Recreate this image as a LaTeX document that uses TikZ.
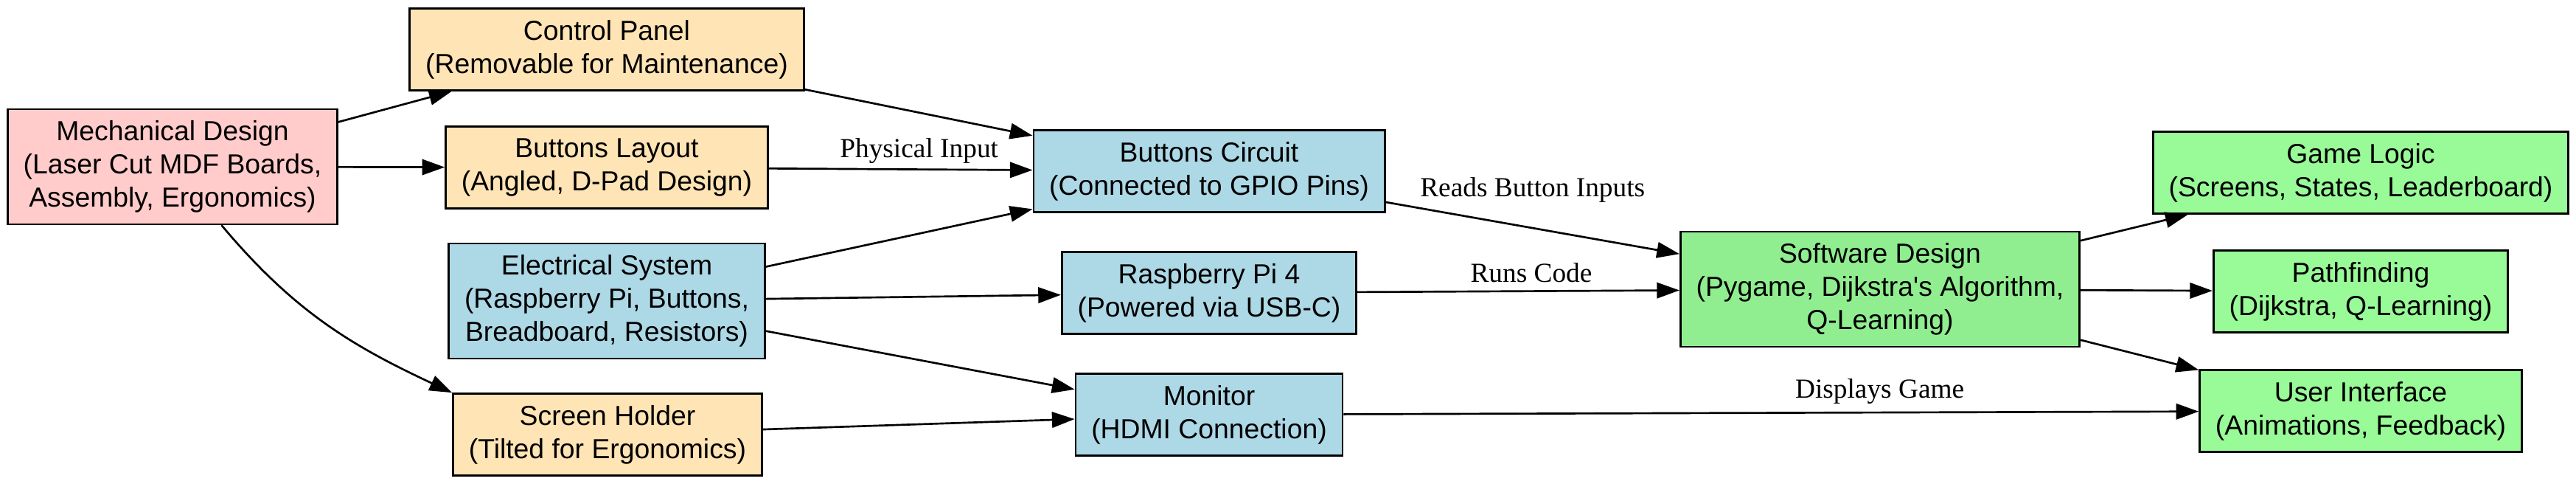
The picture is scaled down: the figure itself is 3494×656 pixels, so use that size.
\documentclass[tikz,border=0pt]{standalone}
\usepackage{fontspec}
\setmainfont{Liberation Sans}
\newfontfamily\labelfont{Liberation Serif}
\usetikzlibrary{arrows.meta}
\definecolor{nodepink}{HTML}{FFCCCB}
\definecolor{nodeorange}{HTML}{FFE4B5}
\definecolor{nodeblue}{HTML}{ADD8E6}
\definecolor{nodegreen1}{HTML}{90EE90}
\definecolor{nodegreen2}{HTML}{98FB98}

\begin{document}
\begin{tikzpicture}[x=0.375pt, y=0.375pt,
   part/.style={draw, line width=1pt, align=center, inner xsep=8pt,
                minimum height=41.6pt, font=\fontsize{14}{16.8}\selectfont},
   tall/.style={minimum height=58.4pt},
   link/.style={-{Triangle[length=11.5pt,width=8pt]}, line width=1pt},
   elabel/.style={font=\labelfont\fontsize{14}{16.8}\selectfont,
                  inner sep=0pt, text height=10pt, text depth=3pt}]
   \useasboundingbox (0,0) rectangle (3494,-656);
   % mechanical side
   \node(mech)[part, tall, fill=nodepink] at (234,-226)
      {Mechanical Design\\(Laser Cut MDF Boards,\\Assembly, Ergonomics)};
   \node(cpanel)[part, fill=nodeorange] at (823,-67)
      {Control Panel\\(Removable for Maintenance)};
   \node(blayout)[part, fill=nodeorange] at (823,-227)
      {Buttons Layout\\(Angled, D-Pad Design)};
   \node(sholder)[part, fill=nodeorange] at (824,-589)
      {Screen Holder\\(Tilted for Ergonomics)};
   % electrical side
   \node(elec)[part, tall, fill=nodeblue] at (823,-408)
      {Electrical System\\(Raspberry Pi, Buttons,\\Breadboard, Resistors)};
   \node(bcircuit)[part, fill=nodeblue] at (1640,-232)
      {Buttons Circuit\\(Connected to GPIO Pins)};
   \node(rpi)[part, fill=nodeblue] at (1640,-397)
      {Raspberry Pi 4\\(Powered via USB-C)};
   \node(monitor)[part, fill=nodeblue] at (1640,-562)
      {Monitor\\(HDMI Connection)};
   % software side
   \node(software)[part, tall, fill=nodegreen1] at (2550,-392)
      {Software Design\\(Pygame, Dijkstra\textquotesingle s Algorithm,\\Q-Learning)};
   \node(gamelogic)[part, fill=nodegreen2] at (3202,-234)
      {Game Logic\\(Screens, States, Leaderboard)};
   \node(pathfind)[part, fill=nodegreen2] at (3202,-395)
      {Pathfinding\\(Dijkstra, Q-Learning)};
   \node(ui)[part, fill=nodegreen2] at (3202,-557)
      {User Interface\\(Animations, Feedback)};

   \draw[link] (mech) -- (cpanel);
   \draw[link] (mech) -- (blayout);
   \draw[link] (mech) to[out=-50, in=155] (sholder.north west);
   \draw[link] (cpanel) -- (bcircuit);
   \draw[link] (blayout) -- node[elabel, pos=0.57, above=2.6pt]{Physical Input} (bcircuit);
   \draw[link] (elec) -- (bcircuit);
   \draw[link] (elec) -- (rpi);
   \draw[link] (elec) -- (monitor);
   \draw[link] (sholder) -- (monitor);
   \draw[link] (bcircuit) -- node[elabel, pos=0.5, above=12.4pt]{Reads Button Inputs} (software);
   \draw[link] (rpi) -- node[elabel, pos=0.54, above=1pt]{Runs Code} (software);
   \draw[link] (monitor) -- node[elabel, pos=0.627, above=4pt]{Displays Game} (ui);
   \draw[link] (software) -- (gamelogic);
   \draw[link] (software) -- (pathfind);
   \draw[link] (software) -- (ui);
\end{tikzpicture}
\end{document}
